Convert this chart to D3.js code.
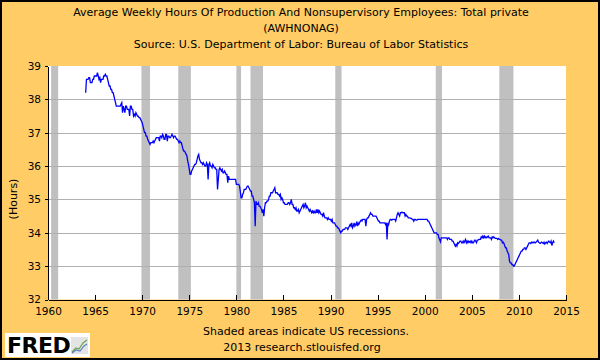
<!DOCTYPE html>
<html>
<head>
<meta charset="utf-8">
<script src="https://cdn.jsdelivr.net/npm/d3@7"></script>
<style>
  html, body { margin: 0; padding: 0; background: #fff; }
  svg { display: block; }
  text { font-family: "DejaVu Sans", Verdana, sans-serif; fill: #000; }
</style>
</head>
<body>
<svg id="chart" width="600" height="360"></svg>
<script>
// ---- Data: monthly average weekly hours, starting January of each block's first year ----
const startYear = 1964;
const hours1960s = [ // 1964-1969
  38.2, 38.6, 38.6, 38.6, 38.65, 38.65, 38.5, 38.5, 38.5, 38.6, 38.6, 38.7,
  38.7, 38.7, 38.7, 38.8, 38.7, 38.6, 38.65, 38.5, 38.6, 38.6, 38.6, 38.7,
  38.7, 38.75, 38.7, 38.7, 38.6, 38.5, 38.4, 38.4, 38.3, 38.3, 38.2, 38.2,
  38.1, 38.0, 37.9, 37.8, 37.8, 37.8, 37.8, 37.8, 37.8, 37.85, 37.9, 37.6,
  37.8, 37.7, 37.6, 37.8, 37.8, 37.7, 37.7, 37.7, 37.5, 37.8, 37.8, 37.7,
  37.7, 37.5, 37.55, 37.5, 37.6, 37.55, 37.5, 37.5, 37.45, 37.45, 37.4, 37.35
];
const hours1970s = [
  37.3, 37.2, 37.1, 37.0, 37.0, 36.9, 36.9, 36.8, 36.75, 36.7, 36.65, 36.7,
  36.7, 36.7, 36.75, 36.7, 36.75, 36.8, 36.85, 36.85, 36.85, 36.85, 36.75, 36.9,
  36.9, 36.85, 36.95, 36.9, 36.8, 36.8, 36.95, 36.95, 36.75, 36.9, 36.9, 36.85,
  36.85, 36.9, 36.95, 36.9, 36.85, 36.9, 36.9, 36.85, 36.8, 36.8, 36.75, 36.7,
  36.75, 36.7, 36.7, 36.6, 36.5, 36.45, 36.45, 36.4, 36.35, 36.3, 36.15, 36.05,
  35.9, 35.75, 35.75, 35.85, 35.9, 35.95, 36.0, 36.05, 36.05, 36.1, 36.2, 36.3,
  36.35, 36.2, 36.15, 36.1, 36.1, 36.05, 36.1, 36.05, 36.0, 36.0, 36.1, 36.05,
  35.6, 36.05, 36.1, 36.0, 36.0, 35.95, 36.05, 36.0, 35.95, 35.95, 35.9, 35.9,
  35.3, 35.6, 35.9, 35.95, 35.9, 35.85, 35.9, 35.8, 35.8, 35.85, 35.8, 35.75,
  35.75, 35.5, 35.7, 35.6, 35.6, 35.6, 35.6, 35.6, 35.6, 35.6, 35.6, 35.6
];
const hours1980s = [
  35.45, 35.45, 35.45, 35.45, 35.4, 35.25, 35.05, 35.05, 35.15, 35.2, 35.3, 35.3,
  35.3, 35.35, 35.4, 35.4, 35.35, 35.3, 35.25, 35.25, 35.1, 35.1, 35.0, 34.9,
  34.2, 34.95, 34.85, 34.85, 34.9, 34.8, 34.8, 34.75, 34.7, 34.6, 34.7, 34.5,
  34.75, 34.9, 34.9, 34.95, 34.95, 35.0, 35.1, 35.1, 35.2, 35.2, 35.2, 35.25,
  35.3, 35.35, 35.2, 35.2, 35.2, 35.15, 35.15, 35.1, 35.15, 35.0, 35.05, 35.0,
  34.9, 34.9, 34.85, 34.85, 34.85, 34.85, 34.9, 34.9, 34.85, 34.9, 35.0, 34.85,
  34.85, 34.75, 34.75, 34.7, 34.75, 34.65, 34.65, 34.7, 34.6, 34.65, 34.7, 34.75,
  34.8, 34.85, 34.75, 34.8, 34.9, 34.75, 34.8, 34.75, 34.7, 34.65, 34.7, 34.65,
  34.6, 34.65, 34.6, 34.65, 34.6, 34.6, 34.7, 34.6, 34.7, 34.6, 34.65, 34.6,
  34.55, 34.55, 34.5, 34.6, 34.5, 34.45, 34.45, 34.45, 34.4, 34.45, 34.4, 34.4
];
const hours1990s = [
  34.4, 34.35, 34.4, 34.3, 34.3, 34.3, 34.25, 34.2, 34.2, 34.15, 34.15, 34.1,
  34.05, 34.0, 34.05, 34.05, 34.1, 34.1, 34.1, 34.15, 34.15, 34.15, 34.1, 34.15,
  34.2, 34.25, 34.2, 34.3, 34.15, 34.2, 34.3, 34.2, 34.25, 34.3, 34.2, 34.3,
  34.25, 34.3, 34.35, 34.38, 34.35, 34.4, 34.4, 34.4, 34.4, 34.2, 34.4, 34.45,
  34.45, 34.5, 34.55, 34.6, 34.55, 34.55, 34.5, 34.5, 34.5, 34.5, 34.5, 34.45,
  34.4, 34.35, 34.35, 34.3, 34.3, 34.3, 34.3, 34.3, 34.3, 34.3, 34.25, 34.3,
  33.8, 34.3, 34.25, 34.35, 34.4, 34.4, 34.38, 34.4, 34.4, 34.4, 34.4, 34.35,
  34.45, 34.55, 34.6, 34.55, 34.5, 34.6, 34.6, 34.62, 34.6, 34.6, 34.6, 34.5,
  34.55, 34.5, 34.5, 34.45, 34.45, 34.45, 34.43, 34.43, 34.4, 34.4, 34.35, 34.4,
  34.4, 34.38, 34.38, 34.4, 34.4, 34.4, 34.4, 34.4, 34.4, 34.4, 34.4, 34.4
];
const hours2000s = [
  34.4, 34.4, 34.4, 34.4, 34.35, 34.35, 34.3, 34.25, 34.2, 34.15, 34.1, 34.05,
  34.0, 34.0, 34.0, 34.0, 33.95, 33.95, 33.85, 33.8, 33.73, 33.85, 33.85, 33.85,
  33.85, 33.85, 33.85, 33.85, 33.85, 33.8, 33.85, 33.85, 33.8, 33.8, 33.8, 33.75,
  33.75, 33.7, 33.65, 33.6, 33.65, 33.6, 33.7, 33.68, 33.72, 33.75, 33.75, 33.7,
  33.7, 33.75, 33.7, 33.75, 33.8, 33.7, 33.75, 33.7, 33.75, 33.72, 33.75, 33.7,
  33.75, 33.7, 33.7, 33.75, 33.78, 33.75, 33.7, 33.78, 33.78, 33.8, 33.8, 33.8,
  33.88, 33.85, 33.9, 33.85, 33.9, 33.85, 33.88, 33.85, 33.88, 33.9, 33.85, 33.85,
  33.85, 33.8, 33.88, 33.85, 33.88, 33.85, 33.83, 33.83, 33.83, 33.8, 33.83, 33.8,
  33.8, 33.78, 33.78, 33.7, 33.72, 33.68, 33.6, 33.55, 33.55, 33.45, 33.4, 33.35,
  33.15, 33.1, 33.1, 33.05, 33.05, 33.0, 33.0, 33.05, 33.1, 33.15, 33.2, 33.25
];
const hours2010s = [
  33.3, 33.35, 33.4, 33.45, 33.45, 33.5, 33.5, 33.55, 33.55, 33.5, 33.55, 33.6,
  33.65, 33.7, 33.7, 33.68, 33.72, 33.7, 33.72, 33.7, 33.72, 33.7, 33.72, 33.75,
  33.78, 33.72, 33.7, 33.68, 33.7, 33.72, 33.7, 33.68, 33.72, 33.66, 33.7, 33.72,
  33.68, 33.72, 33.75, 33.72, 33.7, 33.75, 33.62, 33.7, 33.75, 33.7
];
// US recessions (peak, trough) as decimal years
const recessions = [
  [1960.33, 1961.08], [1969.92, 1970.83], [1973.83, 1975.17], [1980.0, 1980.5],
  [1981.5, 1982.83], [1990.5, 1991.17], [2001.17, 2001.83], [2007.92, 2009.42]
];
const xTicks = [1960, 1965, 1970, 1975, 1980, 1985, 1990, 1995, 2000, 2005, 2010, 2015];
const yTicks = [32, 33, 34, 35, 36, 37, 38, 39];
const titleLines = [
  "Average Weekly Hours Of Production And Nonsupervisory Employees: Total private",
  "(AWHNONAG)",
  "Source: U.S. Department of Labor: Bureau of Labor Statistics"
];
const yLabel = "(Hours)";
const footLines = ["Shaded areas indicate US recessions.", "2013 research.stlouisfed.org"];

// ---- Build series ----
const allHours = [].concat(hours1960s, hours1970s, hours1980s, hours1990s, hours2000s, hours2010s);
const series = allHours.map((v, i) => ({ t: startYear + i / 12, v }));

// ---- Layout ----
const W = 600, H = 360;
const plot = { left: 48, right: 566, top: 66, bottom: 299.5 };
const svg = d3.select("#chart");

svg.append("rect").attr("x", 1).attr("y", 1).attr("width", W - 2).attr("height", H - 2)
  .attr("fill", "#FFCC66").attr("stroke", "#000").attr("stroke-width", 2);

const x = d3.scaleLinear().domain([1960, 2015]).range([plot.left, plot.right]);
const y = d3.scaleLinear().domain([32, 39]).range([plot.bottom, plot.top]);

// plot background
svg.append("rect").attr("x", plot.left).attr("y", plot.top)
  .attr("width", plot.right - plot.left).attr("height", plot.bottom - plot.top)
  .attr("fill", "#fff");

// recessions
svg.append("g").selectAll("rect").data(recessions).join("rect")
  .attr("x", d => x(d[0])).attr("width", d => x(d[1]) - x(d[0]))
  .attr("y", plot.top).attr("height", plot.bottom - plot.top)
  .attr("fill", "#C0C0C0");

// gridlines
svg.append("g").selectAll("line").data(yTicks.filter(t => t > 32 && t < 39)).join("line")
  .attr("x1", plot.left).attr("x2", plot.right)
  .attr("y1", d => Math.round(y(d)) + 0.5).attr("y2", d => Math.round(y(d)) + 0.5)
  .attr("stroke", "#B0B0B0").attr("stroke-width", 1).attr("shape-rendering", "crispEdges");

// line
const line = d3.line().x(d => x(d.t)).y(d => y(d.v));
svg.append("path").datum(series).attr("d", line)
  .attr("fill", "none").attr("stroke", "#0000FF").attr("stroke-width", 1.3)
  .attr("stroke-linejoin", "miter");

// axes
const xAxis = d3.axisBottom(x).tickValues(xTicks).tickFormat(d3.format("d"))
  .tickSizeInner(-5).tickSizeOuter(0).tickPadding(8);
const gx = svg.append("g").attr("transform", `translate(0,${plot.bottom})`).call(xAxis);
gx.select(".domain").attr("stroke", "#000").attr("shape-rendering", "crispEdges");
gx.selectAll(".tick line").attr("stroke", "#000").attr("shape-rendering", "crispEdges");
gx.selectAll("text").attr("font-size", 10.5).attr("font-family", "DejaVu Sans").attr("fill", "#000");

const yAxis = d3.axisLeft(y).tickValues(yTicks).tickFormat(d3.format("d"))
  .tickSizeInner(3).tickSizeOuter(0).tickPadding(4);
const gy = svg.append("g").attr("transform", `translate(${plot.left},0)`).call(yAxis);
gy.select(".domain").attr("stroke", "#000").attr("shape-rendering", "crispEdges");
gy.selectAll(".tick line").attr("stroke", "#000").attr("shape-rendering", "crispEdges");
gy.selectAll("text").attr("font-size", 10.5).attr("font-family", "DejaVu Sans").attr("fill", "#000");

// title
svg.append("g").selectAll("text").data(titleLines).join("text")
  .attr("x", 301).attr("y", (d, i) => 16 + i * 16)
  .attr("text-anchor", "middle").attr("font-size", 11).text(d => d);

// y label
svg.append("text").attr("transform", `translate(17,${199}) rotate(-90)`)
  .attr("text-anchor", "middle").attr("font-size", 11).text(yLabel);

// footer
svg.append("g").selectAll("text").data(footLines).join("text")
  .attr("x", (d, i) => i === 0 ? 306 : 302).attr("y", (d, i) => 335 + i * 16)
  .attr("text-anchor", "middle").attr("font-size", 11).text(d => d);

// FRED logo
const logo = svg.append("g").attr("transform", "translate(5,333)");
logo.append("rect").attr("width", 85).attr("height", 24).attr("fill", "#fff");
logo.append("text").attr("x", 2).attr("y", 20).attr("font-family", "Liberation Sans, Arial, sans-serif")
  .attr("font-weight", "bold").attr("font-size", 22).attr("letter-spacing", -0.5).text("FRED");
const icon = logo.append("g").attr("transform", "translate(66,4)");
icon.append("rect").attr("width", 17).attr("height", 17).attr("fill", "#E4E4E4");
icon.append("path").attr("d", "M1,15 L5,11 L8,12 L12,6 L16,3").attr("fill", "none").attr("stroke", "#6AA84F").attr("stroke-width", 1.2);
icon.append("path").attr("d", "M1,16 L5,13 L9,14 L13,9 L16,7").attr("fill", "none").attr("stroke", "#5B7FC8").attr("stroke-width", 1.2);
</script>
</body>
</html>
